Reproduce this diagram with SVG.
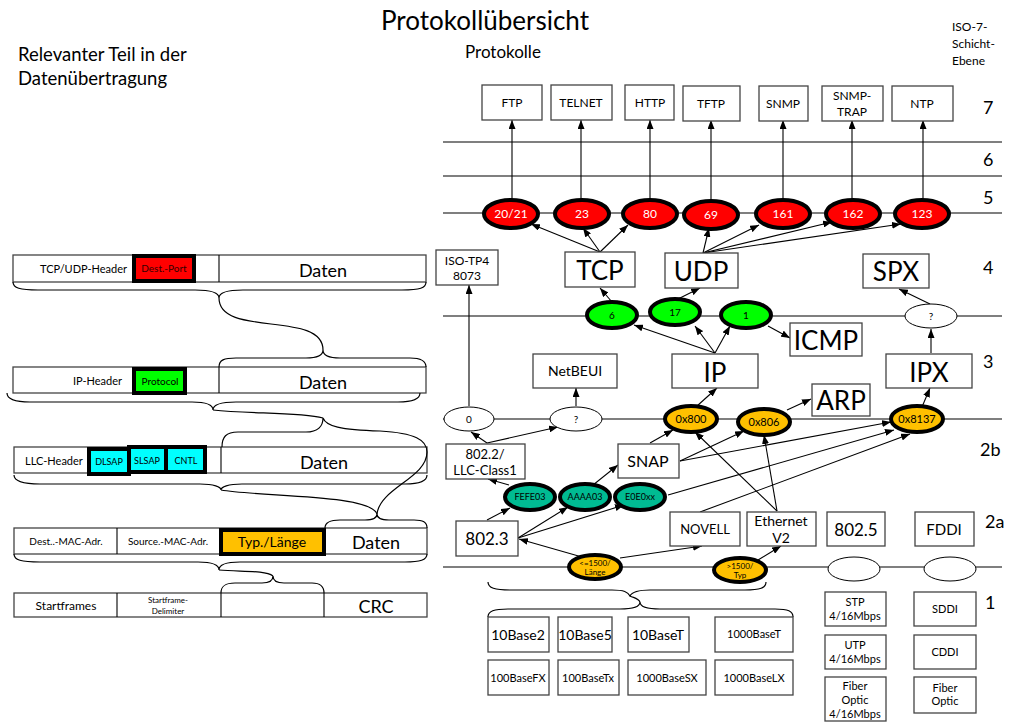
<svg xmlns="http://www.w3.org/2000/svg" width="1031" height="726" viewBox="0 0 1031 726">
<defs>
<marker id="ah" markerUnits="userSpaceOnUse" markerWidth="9" markerHeight="7" refX="9" refY="3.5" orient="auto">
<path d="M0,0 L9,3.5 L0,7 z" fill="#000"/>
</marker>
<style>
text{font-family:Lato,"Liberation Sans",sans-serif;fill:#000}
.box{fill:#fff;stroke:#444;stroke-width:1.3}
.lay{stroke:#000;stroke-width:1.2;fill:none}
.con{stroke:#000;stroke-width:1.1;fill:none;marker-end:url(#ah)}
.ln{stroke:#000;stroke-width:1.1;fill:none}
.br{stroke:#000;stroke-width:1.2;fill:none}
.red{fill:#FF0000;stroke:#000;stroke-width:4}
.grn{fill:#00FF00;stroke:#000;stroke-width:4}
.org{fill:#FFC000;stroke:#000;stroke-width:4}
.tea{fill:#00BB92;stroke:#000;stroke-width:4}
.wht{fill:#fff;stroke:#000;stroke-width:1}
.thk{stroke:#000;stroke-width:4}
.c{text-anchor:middle}
.e{text-anchor:end}
</style>
</defs>
<rect width="1031" height="726" fill="#fff"/>

<g id="titles">
<text x="485" y="30" class="c" font-size="26">Protokollübersicht</text>
<text x="18" y="61" font-size="18.5">Relevanter Teil in der</text>
<text x="18" y="85" font-size="18.5">Datenübertragung</text>
<text x="465" y="58" font-size="17">Protokolle</text>
<text x="952" y="31" font-size="12">ISO-7-</text>
<text x="952" y="48" font-size="12">Schicht-</text>
<text x="952" y="65" font-size="12">Ebene</text>
</g>

<g id="layers">
<line class="lay" x1="443" y1="142" x2="1002" y2="142"/>
<line class="lay" x1="443" y1="176" x2="1002" y2="176"/>
<line class="lay" x1="443" y1="213" x2="1002" y2="213"/>
<line class="lay" x1="443" y1="316" x2="1002" y2="316"/>
<line class="lay" x1="443" y1="419" x2="1002" y2="419"/>
<line class="lay" x1="443" y1="567" x2="1002" y2="567"/>
<text x="983" y="114" font-size="18">7</text>
<text x="983" y="166" font-size="18">6</text>
<text x="983" y="204" font-size="18">5</text>
<text x="983" y="274" font-size="18">4</text>
<text x="983" y="368" font-size="18">3</text>
<text x="980" y="456" font-size="18">2b</text>
<text x="985" y="528" font-size="18">2a</text>
<text x="985" y="609" font-size="18">1</text>
</g>

<g id="connectors">
<line class="con" x1="512" y1="200" x2="512" y2="120"/>
<line class="con" x1="581" y1="200" x2="581" y2="120"/>
<line class="con" x1="650" y1="200" x2="650" y2="120"/>
<line class="con" x1="711" y1="200" x2="711" y2="120"/>
<line class="con" x1="783" y1="200" x2="783" y2="120"/>
<line class="con" x1="852" y1="200" x2="852" y2="120"/>
<line class="con" x1="923" y1="200" x2="923" y2="120"/>
<line class="con" x1="600" y1="252" x2="531" y2="224"/>
<line class="con" x1="600" y1="252" x2="583" y2="228"/>
<line class="con" x1="600" y1="252" x2="628" y2="225"/>
<line class="con" x1="703" y1="253" x2="709" y2="228"/>
<line class="con" x1="703" y1="253" x2="759" y2="225"/>
<line class="con" x1="703" y1="253" x2="832" y2="222"/>
<line class="con" x1="703" y1="253" x2="901" y2="224"/>
<line class="con" x1="612" y1="302" x2="600" y2="288"/>
<line class="con" x1="678" y1="299" x2="700" y2="288"/>
<line class="con" x1="768" y1="326" x2="790" y2="338"/>
<line class="con" x1="715" y1="353" x2="634" y2="325"/>
<line class="con" x1="715" y1="353" x2="695" y2="326"/>
<line class="con" x1="715" y1="353" x2="730" y2="326"/>
<line class="con" x1="930" y1="304" x2="899" y2="289"/>
<line class="con" x1="931" y1="353" x2="931" y2="329"/>
<line class="con" x1="469" y1="406" x2="469" y2="285"/>
<line class="con" x1="576" y1="406" x2="576" y2="388"/>
<line class="con" x1="697" y1="406" x2="717" y2="388"/>
<line class="con" x1="787" y1="410" x2="811" y2="399"/>
<line class="con" x1="922" y1="407" x2="930" y2="388"/>
<line class="con" x1="487" y1="443" x2="471" y2="432"/>
<line class="con" x1="487" y1="443" x2="558" y2="427"/>
<line class="con" x1="650" y1="443" x2="673" y2="430"/>
<line class="con" x1="680" y1="461" x2="744" y2="431"/>
<line class="con" x1="680" y1="461" x2="891" y2="422"/>
<line class="con" x1="668" y1="495" x2="894" y2="430"/>
<line class="con" x1="700" y1="512" x2="910" y2="434"/>
<line class="con" x1="777" y1="511" x2="695" y2="432"/>
<line class="con" x1="777" y1="511" x2="764" y2="435"/>
<line class="con" x1="509" y1="485" x2="488" y2="479"/>
<line class="con" x1="593" y1="485" x2="618" y2="465"/>
<line class="con" x1="487" y1="520" x2="510" y2="508"/>
<line class="con" x1="518" y1="538" x2="568" y2="507"/>
<line class="con" x1="518" y1="538" x2="624" y2="505"/>
<line class="con" x1="582" y1="557" x2="519" y2="539"/>
<line class="con" x1="620" y1="558" x2="702" y2="546"/>
<line class="con" x1="758" y1="560" x2="781" y2="546"/>
<path class="br" d="M488,582 C488,588 495,590 510,590 L612,590 C624,590 628,592 630,596 C632,592 638,590 650,590 L745,590 C760,590 766,588 766,582"/>
<path class="br" d="M630,596 C634,598 638,598 640,602"/>
<path class="br" d="M488,617 C488,611 494,609 508,609 L620,609 C634,609 640,606 640,602 C640,606 646,609 660,609 L775,609 C788,609 793,611 793,617"/>
</g>

<g id="app-boxes">
<rect class="box" x="482" y="85" width="60" height="35"/><text x="512" y="107" class="c" font-size="12">FTP</text>
<rect class="box" x="551" y="85" width="61" height="35"/><text x="581" y="107" class="c" font-size="12">TELNET</text>
<rect class="box" x="625" y="85" width="49" height="35"/><text x="650" y="107" class="c" font-size="12">HTTP</text>
<rect class="box" x="683" y="86" width="57" height="35"/><text x="711" y="108" class="c" font-size="12">TFTP</text>
<rect class="box" x="759" y="86" width="49" height="35"/><text x="783" y="108" class="c" font-size="12">SNMP</text>
<rect class="box" x="822" y="86" width="61" height="35"/><text x="852" y="100" class="c" font-size="12">SNMP-</text><text x="852" y="116" class="c" font-size="12">TRAP</text>
<rect class="box" x="892" y="86" width="61" height="35"/><text x="922" y="108" class="c" font-size="12">NTP</text>
</g>

<g id="ports">
<ellipse class="red" cx="511" cy="214" rx="27" ry="14"/><text x="511" y="218" class="c" font-size="12" style="fill:#fff">20/21</text>
<ellipse class="red" cx="582" cy="214" rx="27" ry="14"/><text x="582" y="218" class="c" font-size="12" style="fill:#fff">23</text>
<ellipse class="red" cx="650" cy="214" rx="27" ry="14"/><text x="650" y="218" class="c" font-size="12" style="fill:#fff">80</text>
<ellipse class="red" cx="711" cy="215" rx="27" ry="14"/><text x="711" y="219" class="c" font-size="12" style="fill:#fff">69</text>
<ellipse class="red" cx="783" cy="214" rx="27" ry="14"/><text x="783" y="218" class="c" font-size="12" style="fill:#fff">161</text>
<ellipse class="red" cx="853" cy="214" rx="27" ry="14"/><text x="853" y="218" class="c" font-size="12" style="fill:#fff">162</text>
<ellipse class="red" cx="922" cy="214" rx="27" ry="14"/><text x="922" y="218" class="c" font-size="12" style="fill:#fff">123</text>
</g>

<g id="transport">
<rect class="box" x="436" y="250" width="62" height="35"/><text x="467" y="265" class="c" font-size="12">ISO-TP4</text><text x="467" y="280" class="c" font-size="12">8073</text>
<rect class="box" x="565" y="252" width="70" height="35"/><text x="600" y="280" class="c" font-size="26">TCP</text>
<rect class="box" x="665" y="253" width="73" height="35"/><text x="701" y="281" class="c" font-size="26">UDP</text>
<rect class="box" x="863" y="254" width="66" height="34"/><text x="896" y="281" class="c" font-size="26">SPX</text>
<ellipse class="grn" cx="612" cy="315" rx="25" ry="13"/><text x="612" y="319" class="c" font-size="10">6</text>
<ellipse class="grn" cx="675" cy="312" rx="25" ry="13"/><text x="675" y="316" class="c" font-size="10">17</text>
<ellipse class="grn" cx="746" cy="315" rx="25" ry="13"/><text x="746" y="319" class="c" font-size="10">1</text>
<ellipse class="wht" cx="931" cy="316" rx="26" ry="12"/><text x="931" y="320" class="c" font-size="10">?</text>
</g>

<g id="network">
<rect class="box" x="790" y="323" width="72" height="33"/><text x="826" y="350" class="c" font-size="26">ICMP</text>
<rect class="box" x="533" y="354" width="84" height="34"/><text x="575" y="376" class="c" font-size="14">NetBEUI</text>
<rect class="box" x="672" y="354" width="86" height="34"/><text x="715" y="382" class="c" font-size="26">IP</text>
<rect class="box" x="886" y="354" width="86" height="34"/><text x="929" y="382" class="c" font-size="26">IPX</text>
<rect class="box" x="812" y="384" width="58" height="32"/><text x="841" y="410" class="c" font-size="26">ARP</text>
</g>

<g id="llc">
<ellipse class="wht" cx="469" cy="419" rx="25" ry="12"/><text x="469" y="423" class="c" font-size="10">0</text>
<ellipse class="wht" cx="576" cy="419" rx="26" ry="12"/><text x="576" y="423" class="c" font-size="10">?</text>
<ellipse class="org" cx="691" cy="419" rx="26" ry="13"/><text x="691" y="423" class="c" font-size="11">0x800</text>
<ellipse class="org" cx="764" cy="422" rx="26" ry="13"/><text x="764" y="426" class="c" font-size="11">0x806</text>
<ellipse class="org" cx="917" cy="419" rx="26" ry="13"/><text x="917" y="423" class="c" font-size="11">0x8137</text>
<rect class="box" x="446" y="444" width="79" height="35"/><text x="485" y="459" class="c" font-size="13">802.2/</text><text x="485" y="475" class="c" font-size="13">LLC-Class1</text>
<rect class="box" x="618" y="444" width="61" height="34"/><text x="648" y="467" class="c" font-size="16">SNAP</text>
<ellipse class="tea" cx="530" cy="497" rx="25" ry="13"/><text x="530" y="500" class="c" font-size="9">FEFE03</text>
<ellipse class="tea" cx="585" cy="497" rx="25" ry="13"/><text x="585" y="500" class="c" font-size="9">AAAA03</text>
<ellipse class="tea" cx="640" cy="497" rx="25" ry="13"/><text x="640" y="500" class="c" font-size="9">E0E0xx</text>
</g>

<g id="mac">
<rect class="box" x="456" y="521" width="62" height="35"/><text x="487" y="545" class="c" font-size="17">802.3</text>
<rect class="box" x="670" y="512" width="70" height="34"/><text x="705" y="534" class="c" font-size="13">NOVELL</text>
<rect class="box" x="747" y="512" width="69" height="34"/><text x="781" y="526" class="c" font-size="14">Ethernet</text><text x="781" y="543" class="c" font-size="14">V2</text>
<rect class="box" x="827" y="512" width="58" height="34"/><text x="856" y="536" class="c" font-size="17">802.5</text>
<rect class="box" x="915" y="512" width="59" height="34"/><text x="944" y="535" class="c" font-size="15">FDDI</text>
<ellipse class="org" cx="595" cy="567" rx="26" ry="12"/><text x="595" y="566" class="c" font-size="8">&lt;=1500/</text><text x="595" y="575" class="c" font-size="8">Länge</text>
<ellipse class="org" cx="740" cy="570" rx="26" ry="12"/><text x="740" y="569" class="c" font-size="8">&gt;1500/</text><text x="740" y="578" class="c" font-size="8">Typ</text>
<ellipse class="wht" cx="854" cy="569" rx="26" ry="12"/>
<ellipse class="wht" cx="950" cy="569" rx="26" ry="12"/>
</g>

<g id="physical">
<rect class="box" x="488" y="617" width="61" height="35"/><text x="518" y="640" class="c" font-size="14">10Base2</text>
<rect class="box" x="558" y="617" width="54" height="35"/><text x="585" y="640" class="c" font-size="14">10Base5</text>
<rect class="box" x="628" y="617" width="61" height="35"/><text x="658" y="640" class="c" font-size="14">10BaseT</text>
<rect class="box" x="715" y="617" width="78" height="35"/><text x="754" y="638" class="c" font-size="11">1000BaseT</text>
<rect class="box" x="488" y="660" width="61" height="35"/><text x="518" y="682" class="c" font-size="11">100BaseFX</text>
<rect class="box" x="558" y="660" width="61" height="35"/><text x="588" y="682" class="c" font-size="11">100BaseTx</text>
<rect class="box" x="628" y="660" width="78" height="35"/><text x="667" y="682" class="c" font-size="11">1000BaseSX</text>
<rect class="box" x="715" y="660" width="78" height="35"/><text x="754" y="682" class="c" font-size="11">1000BaseLX</text>
<rect class="box" x="825" y="592" width="61" height="34"/><text x="855" y="606" class="c" font-size="11">STP</text><text x="855" y="620" class="c" font-size="11">4/16Mbps</text>
<rect class="box" x="825" y="635" width="61" height="34"/><text x="855" y="649" class="c" font-size="11">UTP</text><text x="855" y="663" class="c" font-size="11">4/16Mbps</text>
<rect class="box" x="825" y="677" width="61" height="44"/><text x="855" y="690" class="c" font-size="11">Fiber</text><text x="855" y="704" class="c" font-size="11">Optic</text><text x="855" y="718" class="c" font-size="11">4/16Mbps</text>
<rect class="box" x="914" y="592" width="62" height="34"/><text x="945" y="613" class="c" font-size="11">SDDI</text>
<rect class="box" x="914" y="635" width="62" height="34"/><text x="945" y="656" class="c" font-size="11">CDDI</text>
<rect class="box" x="914" y="677" width="62" height="36"/><text x="945" y="692" class="c" font-size="11">Fiber</text><text x="945" y="705" class="c" font-size="11">Optic</text>
</g>

<g id="packet-tcp">
<rect class="box" x="13" y="255" width="413" height="27"/>
<line class="ln" x1="219" y1="255" x2="219" y2="282"/>
<text x="127" y="273" class="e" font-size="11">TCP/UDP-Header</text>
<rect x="134" y="256" width="60" height="25" fill="#FF0000" class="thk"/>
<text x="164" y="272" class="c" font-size="10" style="fill:#300">Dest.-Port</text>
<text x="323" y="277" class="c" font-size="18">Daten</text>
</g>

<g id="packet-ip">
<rect class="box" x="13" y="367" width="413" height="26"/>
<line class="ln" x1="219" y1="367" x2="219" y2="393"/>
<text x="122" y="385" class="e" font-size="11">IP-Header</text>
<rect x="134" y="369" width="51" height="24" fill="#00FF00" class="thk"/>
<text x="160" y="385" class="c" font-size="10">Protocol</text>
<text x="323" y="389" class="c" font-size="18">Daten</text>
</g>

<g id="packet-llc">
<rect class="box" x="14" y="447" width="413" height="26"/>
<line class="ln" x1="221" y1="447" x2="221" y2="473"/>
<text x="25" y="465" font-size="11">LLC-Header</text>
<rect x="89" y="449" width="40" height="25" fill="#00FFFF" class="thk"/>
<rect x="129" y="447" width="37" height="25" fill="#00FFFF" class="thk"/>
<rect x="166" y="447" width="39" height="25" fill="#00FFFF" class="thk"/>
<text x="109" y="465" class="c" font-size="9">DLSAP</text>
<text x="147" y="464" class="c" font-size="9">SLSAP</text>
<text x="186" y="464" class="c" font-size="9">CNTL</text>
<text x="324" y="469" class="c" font-size="18">Daten</text>
</g>

<g id="packet-mac">
<rect class="box" x="14" y="528" width="413" height="26"/>
<line class="ln" x1="117" y1="528" x2="117" y2="554"/>
<line class="ln" x1="324" y1="528" x2="324" y2="554"/>
<text x="66" y="545" class="c" font-size="10">Dest..-MAC-Adr.</text>
<text x="168" y="545" class="c" font-size="10">Source.-MAC-Adr.</text>
<rect x="221" y="530" width="103" height="24" fill="#FFC000" class="thk"/>
<text x="272" y="547" class="c" font-size="14">Typ./Länge</text>
<text x="376" y="549" class="c" font-size="18">Daten</text>
</g>

<g id="packet-frame">
<rect class="box" x="14" y="593" width="413" height="24"/>
<line class="ln" x1="117" y1="593" x2="117" y2="617"/>
<line class="ln" x1="221" y1="593" x2="221" y2="617"/>
<line class="ln" x1="324" y1="593" x2="324" y2="617"/>
<text x="66" y="610" class="c" font-size="12">Startframes</text>
<text x="168" y="603" class="c" font-size="8">Startframe-</text>
<text x="168" y="614" class="c" font-size="8">Delimiter</text>
<text x="376" y="613" class="c" font-size="18">CRC</text>
</g>

<g id="braces">
<path class="br" d="M13,282 C13,288 20,290 38,290 L195,290 C211,290 219,293 219,298 C219,293 227,290 243,290 L402,290 C420,290 426,288 426,282"/>
<path class="br" d="M219,298 C219,338 323,310 323,350"/>
<path class="br" d="M219,367 C219,360 224,358 236,358 L306,358 C318,358 323,355 323,350 C323,355 328,358 340,358 L410,358 C421,358 426,361 426,367"/>
<path class="br" d="M7,393 C7,399 14,402 30,402 L192,402 C206,402 213,405 213,410 C213,405 220,402 236,402 L398,402 C414,402 420,399 420,393"/>
<path class="br" d="M213,410 C250,414 300,412 323,418"/>
<path class="br" d="M222,447 C222,437 226,432 238,432 L306,432 C318,432 323,426 323,418 C326,426 340,430 380,431 C415,433 427,440 427,452 C427,478 380,488 377,514"/>
<path class="br" d="M14,475 C14,481 21,484 40,484 L200,484 C214,484 221,487 221,490 C221,487 228,484 242,484 L405,484 C420,484 427,481 427,475"/>
<path class="br" d="M221,490 C260,497 370,494 377,514"/>
<path class="br" d="M325,528 C325,522 330,520 340,520 L365,520 C373,520 377,518 377,514 C377,518 381,520 389,520 L414,520 C423,520 427,522 427,528"/>
<path class="br" d="M14,554 C14,560 21,562 40,562 L198,562 C212,562 219,565 219,570 C219,565 226,562 240,562 L405,562 C420,562 427,560 427,554"/>
<path class="br" d="M219,570 C240,572 265,570 273,576"/>
<path class="br" d="M221,593 C221,586 225,583 235,583 L262,583 C270,583 273,580 273,576 C273,580 276,583 284,583 L312,583 C320,583 324,586 324,593"/>
</g>
</svg>
